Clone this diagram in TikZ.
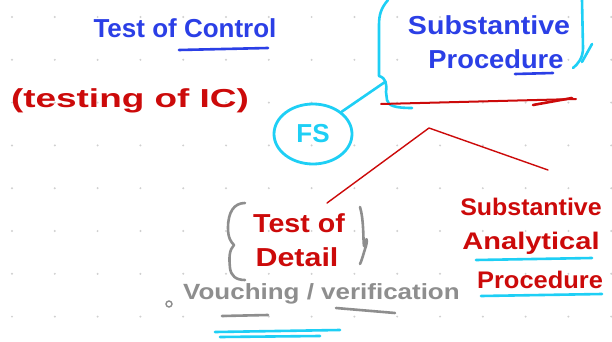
\documentclass[tikz,border=0pt]{standalone}
\usepackage{fontspec}
\setmainfont{Liberation Sans}
\usetikzlibrary{shapes.geometric}
\begin{document}
\begin{tikzpicture}[x=1pt,y=-1pt,
  blu/.style={text=inkblue,font=\fontsize{26}{28}\bfseries,inner sep=0pt},
  rd/.style={text=inkred,font=\fontsize{26}{28}\bfseries,inner sep=0pt},
  rds/.style={text=inkred,font=\fontsize{24}{26}\bfseries,inner sep=0pt},
  gry/.style={text=inkgray,font=\fontsize{22}{24}\bfseries,inner sep=0pt},
  pen/.style={line width=2.6pt,line cap=round,line join=round},
  thin pen/.style={line width=1.4pt,line cap=round,line join=round}]
\definecolor{inkblue}{HTML}{2B3FE6}
\definecolor{inkred}{HTML}{CC0A0A}
\definecolor{inkcyan}{HTML}{1ECFF5}
\definecolor{inkgray}{HTML}{8E8E8E}
\definecolor{dotgray}{HTML}{D0D0D0}
\useasboundingbox (0,0) rectangle (612,342);
\fill[white] (0,0) rectangle (612,342);
% dot grid
\foreach \i in {0,...,14} {
  \foreach \j in {0,...,7} {
    \fill[dotgray] ({12+42.8*\i},{17+42.8*\j}) circle (1.1);
  }
}
% texts
\node[blu] (toc) at (185,28) {Test of Control};
\draw[inkblue,pen] (179,50) -- (268,48);
\node[rd,xscale=1.42] (ic) at (130,101) {(testing of IC)};
\node[blu,xscale=1.1] (sp1) at (489,25) {Substantive};
\node[blu,xscale=1.05] (sp2) at (496,59) {Procedure};
\draw[inkblue,pen] (515,74) -- (553,73);
% cyan bracket
\draw[inkcyan,pen] (388,0) .. controls (381,8) and (379,15) .. (379,25) -- (379,76)
  .. controls (386,78) and (387,84) .. (386,92) -- (387,100)
  .. controls (388,106) and (396,108) .. (412,108);
\draw[inkcyan,pen] (582,0) -- (583,48) .. controls (583,58) and (578,64) .. (573,68);
\draw[inkcyan,pen] (592,44) -- (582,62);
% FS
\node[draw=inkcyan,line width=2.8pt,ellipse,minimum width=78pt,minimum height=60pt,text=inkcyan,font=\fontsize{26}{28}\bfseries] (fs) at (313,134) {FS};
\coordinate (brk) at (385,82);
\draw[inkcyan,pen] (fs.north east) -- (brk);
% red underline of SP
\draw[inkred,line width=2pt,line cap=round] (381,104) -- (576,99);
\draw[inkred,pen] (533,105) -- (572,98);
% red tree
\coordinate (apex) at (429,128);
\coordinate (lt) at (327,203);
\coordinate (rt) at (548,170);
\draw[inkred,thin pen] (lt) -- (apex) -- (rt);
% Test of Detail
\node[rd,xscale=1.1] (td1) at (299,223) {Test of};
\node[rd,xscale=1.17] (td2) at (297,257) {Detail};
\draw[inkgray,pen] (245,203) .. controls (234,203) and (228,212) .. (228,228)
  .. controls (228,238) and (231,242) .. (234,245)
  .. controls (229,250) and (229,258) .. (230,268)
  .. controls (231,276) and (236,280) .. (245,280);
\draw[inkgray,pen] (360,207) .. controls (364,220) and (363,240) .. (364,246)
  .. controls (366,236) and (368,238) .. (366,246)
  .. controls (363,255) and (362,260) .. (360,264);
% vouching
\node[gry,anchor=west,xscale=1.18] (vv) at (183,294) {Vouching / verification};
\draw[inkgray,line width=1.4pt] (169,304) circle (3);
\draw[inkgray,pen] (222,316) -- (268,315);
\draw[inkgray,pen] (336,308) -- (395,313);
\draw[inkcyan,pen] (215,332) -- (340,330);
\draw[inkcyan,pen] (220,337) -- (320,336);
% SAP
\node[rds,xscale=1.04] (sa1) at (531,207) {Substantive};
\node[rds,xscale=1.21] (sa2) at (531,243) {Analytical};
\node[rds,xscale=1.06] (sa3) at (540,280) {Procedure};
\draw[inkcyan,pen] (476,260) -- (592,258);
\draw[inkcyan,pen] (481,296) -- (602,294);
\end{tikzpicture}
\end{document}
